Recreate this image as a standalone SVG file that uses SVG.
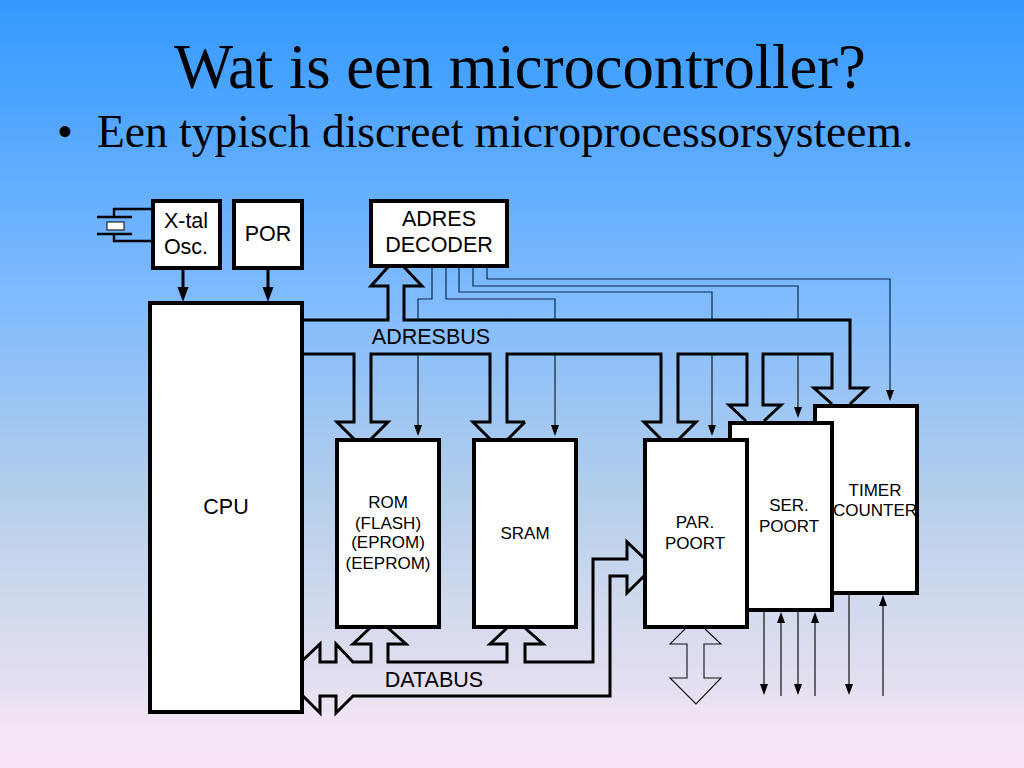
<svg xmlns="http://www.w3.org/2000/svg" width="1024" height="768" viewBox="0 0 1024 768">
<style>
.box{fill:#fff;stroke:#000;stroke-width:4;stroke-linejoin:miter}
.bus{fill:none;stroke:#000;stroke-width:3;stroke-linejoin:miter}
.sig{fill:none;stroke:#0a2a4a;stroke-width:1.2}
.thin{fill:none;stroke:#111;stroke-width:1.1}
.head{fill:#000}
text{font-family:"Liberation Sans",Arial,sans-serif;fill:#000;text-anchor:middle}
.t20{font-size:21.5px}.t16{font-size:17px}
.serif{font-family:"Liberation Serif","Times New Roman",serif;text-anchor:start}
</style>
<defs>
<linearGradient id="bg" x1="0" y1="0" x2="0" y2="1">
<stop offset="0" stop-color="#3399ff"/>
<stop offset="0.39" stop-color="#80bbff"/>
<stop offset="0.65" stop-color="#b5cfea"/>
<stop offset="0.78" stop-color="#d0d9ee"/>
<stop offset="0.89" stop-color="#e3dff0"/>
<stop offset="0.95" stop-color="#f6e5f8"/>
<stop offset="1" stop-color="#f8e6f8"/>
</linearGradient>
</defs>
<rect width="1024" height="768" fill="url(#bg)"/>
<text class="serif" x="174" y="88" font-size="62.6" id="title">Wat is een microcontroller?</text>
<text class="serif" x="57" y="147" font-size="45.5">•</text>
<text class="serif" x="97" y="147" font-size="45.5">Een typisch discreet microprocessorsysteem.</text>

<g id="connectors">
<path class="bus" d="M303 320H388V286H371L388 267M404 267L422 286H404V320H850V388H867L850 404"/>
<path class="bus" d="M303 354H354V422H337L354 439M371 439L388 422H371V354H490V422H473L490 439M525 422H507V354H661V422H644L661 439M508 439L525 422M679 439L696 422H678V354H747V405H729L746 421M764 421L781 405H763V354H832V388H814L832 404"/>
<path class="bus" d="M303 660L320 644V662H336V644L353 662H371V644H353L370 628M388 628L406 644H388V662H507V644H490L507 628M525 628L543 644H525V662H593V559H627V542L644 558M644 576L627 593V576H610V696H353L336 713V696H320V713L303 696"/>
<path class="thin" d="M685 629L670 644H687V678H670L696 704L721 678H704V644H721L705 629"/>
<path class="sig" d="M418 320V299H432V268M446 268V299H555V320M459 268V292H712V320M473 268V286H798V320M487 268V279H890V392"/>
<path class="thin" d="M418 354V425M555 354V425M712 354V425M798 354V407"/>
<path class="head" d="M414 425H422L418 436ZM551 425H559L555 436ZM708 425H716L712 436ZM794 407H802L798 418ZM886 390H894L890 401Z"/>
<path class="bus" d="M183 270V288M268 270V288"/>
<path class="head" d="M177.500 287H188.500L183 302ZM262.500 287H273.500L268 302Z"/>
<path class="thin" style="stroke-width:1.2" d="M764 611V685M781 622V696M798 611V685M815 622V696M849 594V685M883 605V696"/>
<path class="head" d="M760 684H768L764 695ZM794 684H802L798 695ZM845 684H853L849 695ZM777 623H785L781 612ZM811 623H819L815 612ZM879 606H887L883 595Z"/>
<path class="bus" style="stroke-width:2.4" d="M152 209H114V217M97 217H132M97 234H132M114 234V241H152"/>
<rect x="107" y="222" width="17" height="8" fill="#fff" stroke="#000" stroke-width="1"/>
</g>

<g id="xtal"><rect class="box" x="153" y="201" width="67" height="67"/><text class="t20" x="186" y="228">X-tal</text><text class="t20" x="186" y="254">Osc.</text></g>
<g id="por"><rect class="box" x="234" y="201" width="68" height="67"/><text class="t20" x="268" y="241">POR</text></g>
<g id="decoder"><rect class="box" x="371" y="201" width="136" height="65"/><text class="t20" x="439" y="226">ADRES</text><text class="t20" x="439" y="252">DECODER</text></g>
<g id="cpu"><rect class="box" x="150" y="303" width="152" height="409"/><text class="t20" x="226" y="514">CPU</text></g>
<g id="rom"><rect class="box" x="337" y="440" width="102" height="187"/><text class="t16" x="388" y="508">ROM</text><text class="t16" x="388" y="529">(FLASH)</text><text class="t16" x="388" y="548">(EPROM)</text><text class="t16" x="388" y="569">(EEPROM)</text></g>
<g id="sram"><rect class="box" x="474" y="440" width="102" height="187"/><text class="t16" x="525" y="539">SRAM</text></g>
<g id="timer"><rect class="box" x="815" y="406" width="102" height="187"/><text class="t16" x="875" y="496">TIMER</text><text class="t16" x="875" y="516">COUNTER</text></g>
<g id="ser"><rect class="box" x="730" y="423" width="102" height="187"/><text class="t16" x="789" y="511">SER.</text><text class="t16" x="789" y="532">POORT</text></g>
<g id="par"><rect class="box" x="645" y="440" width="102" height="187"/><text class="t16" x="695" y="528">PAR.</text><text class="t16" x="695" y="549">POORT</text></g>
<text class="t20" x="431" y="344" id="adresbus">ADRESBUS</text>
<text class="t20" x="434" y="687" id="databus">DATABUS</text>
</svg>
